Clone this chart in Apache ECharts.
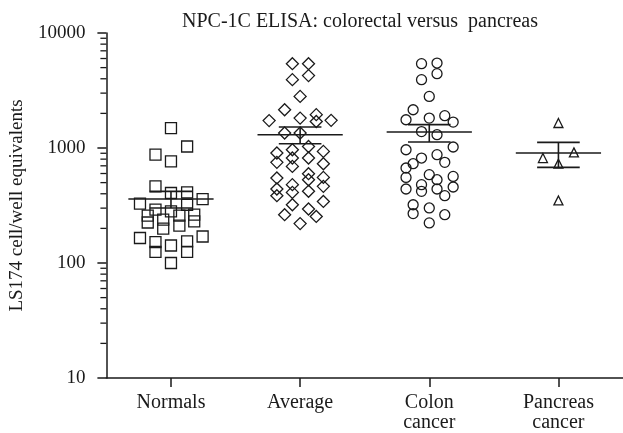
<!DOCTYPE html>
<html>
<head>
<meta charset="utf-8">
<script src="https://cdn.jsdelivr.net/npm/echarts@6/dist/echarts.min.js"></script>
<style>html,body{margin:0;padding:0;background:#fff}#c{width:623px;height:433px}</style>
</head>
<body>
<div id="c"></div>
<script>
var categories = ['Normals', 'Average', 'Colon\ncancer', 'Pancreas\ncancer'];
var yTickLabels = [10, 100, 1000, 10000];
var yMinorTicks = [20,30,40,50,60,70,80,90,200,300,400,500,600,700,800,900,2000,3000,4000,5000,6000,7000,8000,9000];

var normalsValues = [1490,1030,875,765,464,406,411,360,328,321,291,281,258,258,263,238,225,230,211,199,165,170,152,142,154,125,125,100];
var normalsOffsets = [0,0.125,-0.12,0,-0.12,0,0.125,0.245,-0.24,0.125,-0.12,0,-0.18,0.065,0.18,-0.06,-0.18,0.18,0.065,-0.06,-0.24,0.245,-0.12,0,0.125,-0.12,0.125,0];

var averageValues = [5410,5410,3930,4260,2810,2150,1730,1820,1950,1700,1740,1350,1350,1030,905,966,934,818,750,692,818,730,549,598,530,555,440,480,411,420,464,385,343,321,295,263,254,220];
var averageOffsets = [-0.06,0.065,-0.06,0.065,0,-0.12,-0.24,0,0.125,0.125,0.24,-0.12,0,0.065,-0.18,-0.06,0.18,-0.06,-0.18,-0.06,0.065,0.18,-0.18,0.065,0.065,0.18,-0.18,-0.06,-0.06,0.065,0.18,-0.18,0.18,-0.06,0.065,-0.12,0.125,0];

var colonValues = [5410,5480,3930,4430,2810,2150,1760,1820,1910,1680,1390,1305,1020,966,818,875,730,750,586,670,530,566,555,440,480,420,440,458,385,321,269,301,263,223];
var colonOffsets = [-0.06,0.06,-0.06,0.06,0,-0.125,-0.18,0,0.12,0.185,-0.06,0.06,0.185,-0.18,-0.06,0.06,-0.125,0.12,0,-0.18,0.06,0.185,-0.18,-0.18,-0.06,-0.06,0.06,0.185,0.12,-0.125,-0.125,0,0.12,0];

var pancreasValues = [1650,818,916,730,350];
var pancreasOffsets = [0,-0.12,0.12,0,0];

var groupMeans = [360, 1305, 1376, 905];
var groupSemLow = [301, 1089, 1127, 678];
var groupSemHigh = [420, 1524, 1597, 1119];

var INK = '#1a1a1a';
var FONT = 'Liberation Serif';

function pts(idx, vals, offs) {
  return vals.map(function (v, i) { return [idx + offs[i], v]; });
}

var summaryData = groupMeans.map(function (m, i) { return [i + 1, m, groupSemLow[i], groupSemHigh[i]]; });

var chart = echarts.init(document.getElementById('c'), null, { renderer: 'canvas' });

function scatterSeries(data, symbol, size) {
  return {
    type: 'scatter', data: data, symbol: symbol, symbolSize: size,
    itemStyle: { color: 'rgba(0,0,0,0)', borderColor: INK, borderWidth: 1.3, opacity: 1 },
    emphasis: { disabled: true }, silent: true, z: 3
  };
}

chart.setOption({
  animation: false,
  backgroundColor: '#fff',
  title: {
    text: 'NPC-1C ELISA: colorectal versus  pancreas',
    left: 177, top: 7,
    textStyle: { fontFamily: FONT, fontSize: 20, fontWeight: 'normal', color: INK }
  },
  grid: { left: 105, right: 0, top: 33, bottom: 55, containLabel: false },
  xAxis: {
    type: 'value', min: 0.5, max: 4.5,
    splitLine: { show: false },
    axisLine: { show: true, lineStyle: { color: INK, width: 1.5 } },
    axisTick: { show: true, length: 9, lineStyle: { color: INK, width: 1.5 }, customValues: [1, 2, 3, 4] },
    axisLabel: {
      customValues: [1, 2, 3, 4],
      formatter: function (v) { return categories[Math.round(v) - 1] || ''; },
      fontFamily: FONT, fontSize: 20, color: INK, lineHeight: 20, margin: 15
    }
  },
  yAxis: {
    type: 'log', logBase: 10, min: 10, max: 10000,
    name: 'LS174 cell/well equivalents',
    nameLocation: 'middle', nameGap: 77, nameRotate: 90,
    nameTextStyle: { fontFamily: FONT, fontSize: 19, color: INK },
    splitLine: { show: false },
    axisLine: { show: true, lineStyle: { color: INK, width: 1.5 } },
    axisTick: { show: true, length: 9, lineStyle: { color: INK, width: 1.5 } },
    axisLabel: {
      fontFamily: FONT, fontSize: 19, color: INK, margin: 21,
      formatter: function (v) { return yTickLabels.indexOf(Math.round(v)) >= 0 ? String(Math.round(v)) : ''; }
    }
  },
  series: [
    scatterSeries(pts(1, normalsValues, normalsOffsets), 'rect', 11),
    scatterSeries(pts(2, averageValues, averageOffsets), 'diamond', 12),
    scatterSeries(pts(3, colonValues, colonOffsets), 'circle', 10),
    scatterSeries(pts(4, pancreasValues, pancreasOffsets), 'triangle', 9),
    {
      type: 'custom', data: summaryData, clip: false, silent: true, z: 4,
      renderItem: function (params, api) {
        var c = api.value(0), m = api.value(1), lo = api.value(2), hi = api.value(3);
        var mL = api.coord([c - 0.33, m]), mR = api.coord([c + 0.33, m]);
        var hL = api.coord([c - 0.165, hi]), hR = api.coord([c + 0.165, hi]);
        var lL = api.coord([c - 0.165, lo]), lR = api.coord([c + 0.165, lo]);
        var vT = api.coord([c, hi]), vB = api.coord([c, lo]);
        var st = { stroke: INK, lineWidth: 1.6, fill: null };
        return { type: 'group', children: [
          { type: 'line', shape: { x1: mL[0], y1: mL[1], x2: mR[0], y2: mR[1] }, style: st },
          { type: 'line', shape: { x1: hL[0], y1: hL[1], x2: hR[0], y2: hR[1] }, style: st },
          { type: 'line', shape: { x1: lL[0], y1: lL[1], x2: lR[0], y2: lR[1] }, style: st },
          { type: 'line', shape: { x1: vT[0], y1: vT[1], x2: vB[0], y2: vB[1] }, style: st }
        ] };
      }
    },
    {
      type: 'custom', data: yMinorTicks.map(function (v) { return [0.5, v]; }), clip: false, silent: true, z: 5,
      renderItem: function (params, api) {
        var p = api.coord([api.value(0), api.value(1)]);
        return { type: 'line', shape: { x1: p[0] - 6, y1: p[1], x2: p[0], y2: p[1] }, style: { stroke: INK, lineWidth: 1.3 } };
      }
    }
  ]
});
</script>
</body>
</html>
